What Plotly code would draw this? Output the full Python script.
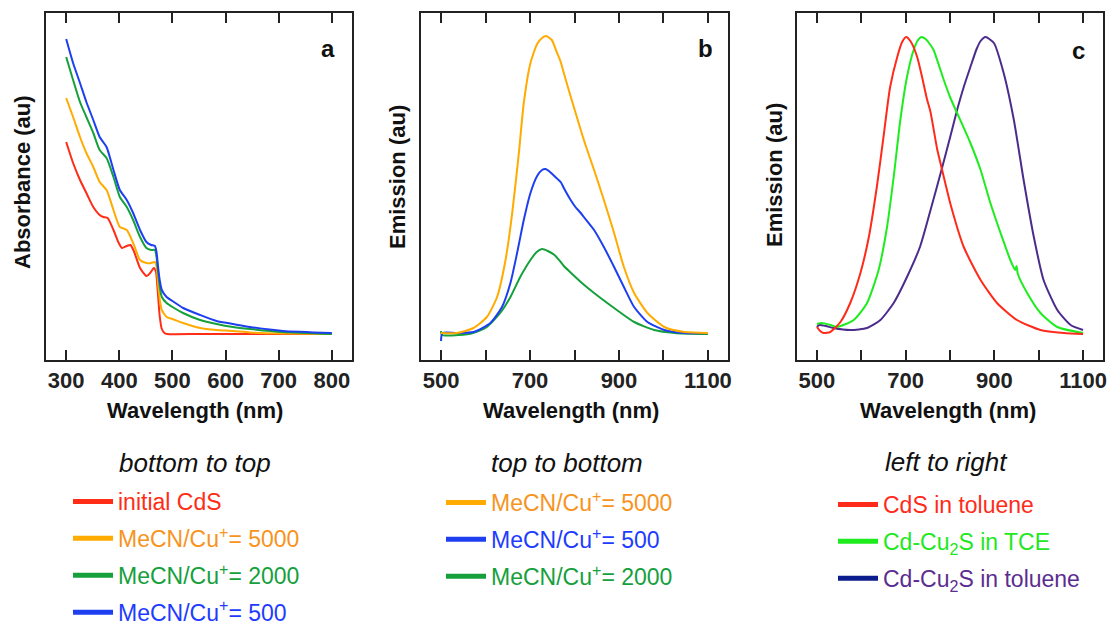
import plotly.graph_objects as go

F = "Liberation Sans, Arial, sans-serif"

# ---------------- Panel a: absorbance ----------------
a_red_x = [300, 313, 326, 338, 351, 363, 370, 378, 389, 398, 405, 414, 421, 428, 439, 451, 458, 465, 469, 472, 476, 480, 485, 490, 550, 650, 800]
a_red_y = [192, 171, 154, 141, 127, 119, 117, 116, 104, 92, 86, 88, 89, 82, 66, 58, 61, 66, 62, 45, 18, 5, 1, 0, 0, 0, 0]

a_x = [300, 313, 326, 338, 351, 363, 376, 389, 401, 414, 426, 439, 451, 460, 467, 470, 473, 476, 480, 489, 500, 520, 552, 583, 614, 646, 708, 800]
a_orange_y = [236, 217, 197, 181, 167, 152, 144, 124, 107, 104, 91, 74, 71, 71, 72, 68, 50, 35, 24, 17, 15, 11, 6, 4, 3, 1.5, 0.5, 0]
a_green_y = [277, 254, 232, 217, 201, 184, 176, 157, 137, 127, 114, 97, 86, 84, 84, 77, 62, 48, 37, 31, 27, 21, 14, 10, 7, 5, 2, 0]
a_blue_y = [295, 271, 251, 232, 214, 197, 187, 164, 144, 134, 121, 104, 92, 89, 88, 82, 67, 54, 44, 37, 33, 26, 19, 13, 10, 7, 3, 1]

# ---------------- Panel b: emission ----------------
b_orange_x = [500, 535, 573, 603, 626, 645, 660, 675, 686, 701, 716, 727, 736, 749, 760, 769, 776, 791, 806, 821, 844, 866, 889, 911, 934, 964, 1002, 1047, 1100]
b_orange_y = [1, 1, 6, 17, 37, 74, 121, 181, 231, 271, 290, 296, 298, 294, 282, 272, 261, 238, 216, 194, 164, 134, 101, 67, 41, 21, 7, 2, 1]
b_blue_x = [500, 503, 535, 573, 611, 637, 656, 671, 686, 701, 716, 727, 735, 745, 757, 769, 776, 790, 802, 814, 821, 844, 866, 889, 911, 934, 964, 1002, 1047, 1100]
b_blue_y = [-7, 1, 1, 2, 11, 27, 51, 81, 114, 141, 158, 164, 165, 162, 157, 152, 146, 135, 127, 121, 117, 104, 87, 67, 47, 27, 12, 4, 1, 1]
b_green_x = [500, 502, 540, 572, 603, 633, 656, 678, 701, 715, 727, 740, 755, 769, 776, 790, 802, 814, 844, 889, 934, 979, 1025, 1100]
b_green_y = [3, -1, -1, 1, 7, 21, 37, 57, 74, 82, 85, 83, 79, 72, 68, 62, 57, 52, 41, 26, 12, 4, 1, 0]

# ---------------- Panel c: emission ----------------
c_red_x = [500, 507, 515, 530, 553, 575, 598, 617, 635, 650, 665, 681, 692, 701, 712, 726, 737, 748, 756, 771, 779, 801, 831, 869, 906, 951, 1004, 1057, 1100]
c_red_y = [7, 3, 1, 2, 12, 31, 61, 97, 147, 197, 247, 277, 292, 297, 292, 277, 257, 235, 222, 185, 170, 130, 87, 54, 31, 14, 4, 1, 0]
c_green_x = [500, 510, 531, 545, 583, 613, 639, 658, 673, 688, 703, 718, 728, 735, 745, 756, 763, 786, 801, 816, 846, 869, 891, 914, 936, 947, 950, 953, 974, 1004, 1042, 1100]
c_green_y = [10, 11, 9, 7, 14, 31, 64, 107, 157, 214, 257, 284, 294, 297, 295, 289, 284, 254, 236, 221, 191, 164, 131, 101, 74, 64, 68, 60, 41, 21, 7, 1]
c_purple_x = [500, 505, 520, 537, 575, 613, 643, 673, 703, 733, 758, 782, 801, 816, 831, 846, 860, 869, 880, 899, 921, 944, 966, 989, 1011, 1042, 1072, 1100]
c_purple_y = [7, 9, 8, 6, 4, 6, 14, 31, 57, 88, 127, 166, 198, 224, 247, 267, 285, 293, 297, 291, 261, 214, 154, 97, 54, 24, 9, 4]

# tick labels
a_tickvals = [300, 400, 500, 600, 700, 800]
a_ticktext = ["300", "400", "500", "600", "700", "800"]
bc_tickvals = [500, 700, 900, 1100]
bc_ticktext = ["500", "700", "900", "1100"]

# legend headings
headings = ["bottom to top", "top to bottom", "left to right"]

# colours
RED = "#ff2d16"
ORANGE = "#ffab00"
GREEN = "#15a03c"
BLUE = "#1e3ff0"
C_RED = "#ff2b1a"
C_GREEN = "#1eec1e"
C_PURPLE = "#4b2c8c"

fig = go.Figure()

def line(x, y, color, xa, ya):
    fig.add_trace(go.Scatter(x=x, y=y, mode="lines", line=dict(color=color, width=2, shape="spline", smoothing=0.6),
                             xaxis=xa, yaxis=ya, showlegend=False, hoverinfo="skip"))

line(a_red_x, a_red_y, RED, "x", "y")
line(a_x, a_orange_y, ORANGE, "x", "y")
line(a_x, a_green_y, GREEN, "x", "y")
line(a_x, a_blue_y, BLUE, "x", "y")

line(b_green_x, b_green_y, GREEN, "x2", "y2")
line(b_blue_x, b_blue_y, BLUE, "x2", "y2")
line(b_orange_x, b_orange_y, ORANGE, "x2", "y2")

line(c_purple_x, c_purple_y, C_PURPLE, "x3", "y3")
line(c_green_x, c_green_y, C_GREEN, "x3", "y3")
line(c_red_x, c_red_y, C_RED, "x3", "y3")

# legend entries
def leg(name, color, text_color, legend, grp):
    fig.add_trace(go.Scatter(x=[None], y=[None], mode="lines", line=dict(color=color, width=5),
                             name='<span style="color:%s">%s</span>' % (text_color, name),
                             legend=legend, legendgroup=grp, showlegend=True, xaxis="x", yaxis="y"))

leg("initial CdS", RED, "#ff2d16", "legend", "a1")
leg("MeCN/Cu<sup>+</sup>= 5000", ORANGE, "#f7941d", "legend", "a2")
leg("MeCN/Cu<sup>+</sup>= 2000", GREEN, "#15a03c", "legend", "a3")
leg("MeCN/Cu<sup>+</sup>= 500", BLUE, "#1e3cff", "legend", "a4")

leg("MeCN/Cu<sup>+</sup>= 5000", ORANGE, "#f7941d", "legend2", "b1")
leg("MeCN/Cu<sup>+</sup>= 500", BLUE, "#1e3cff", "legend2", "b2")
leg("MeCN/Cu<sup>+</sup>= 2000", GREEN, "#15a03c", "legend2", "b3")

leg("CdS in toluene", C_RED, "#ff2b1a", "legend3", "c1")
leg("Cd-Cu<sub>2</sub>S in TCE", C_GREEN, "#22e822", "legend3", "c2")
leg("Cd-Cu<sub>2</sub>S in toluene", "#0b1c8c", "#5b2d90", "legend3", "c3")

W, H = 1111, 626
def px(v): return v / W
def py(v): return 1 - v / H

xcommon = dict(showline=True, linewidth=2, linecolor="#222", mirror="ticks", ticks="inside", ticklen=10,
               tickwidth=2, tickcolor="#222", showgrid=False, zeroline=False,
               tickfont=dict(family=F, size=22, color="#222", weight="bold"))
minor_bc = dict(ticks="inside", ticklen=10, tickwidth=2, tickcolor="#222", tick0=500, dtick=100, showgrid=False)
ycommon = dict(showline=True, linewidth=2, linecolor="#222", mirror=True, ticks="", showticklabels=False,
               showgrid=False, zeroline=False, range=[-26, 321], domain=[py(360), py(13)])

legcommon = dict(bgcolor="rgba(0,0,0,0)", borderwidth=0, font=dict(family=F, size=23), tracegroupgap=4,
                 itemwidth=40, xanchor="left", yanchor="top", xref="container", yref="container",
                 itemclick=False, itemdoubleclick=False)

fig.update_layout(
    width=W, height=H, margin=dict(l=0, r=0, t=0, b=0, autoexpand=False),
    paper_bgcolor="white", plot_bgcolor="white",
    xaxis=dict(xcommon, domain=[px(46), px(352)], range=[262, 838], tickvals=a_tickvals, ticktext=a_ticktext, anchor="y"),
    yaxis=dict(ycommon, anchor="x"),
    xaxis2=dict(xcommon, domain=[px(421), px(728)], range=[455, 1145], tickvals=bc_tickvals, ticktext=bc_ticktext,
                minor=minor_bc, anchor="y2"),
    yaxis2=dict(ycommon, anchor="x2"),
    xaxis3=dict(xcommon, domain=[px(797), px(1103)], range=[455, 1145], tickvals=bc_tickvals, ticktext=bc_ticktext,
                minor=minor_bc, anchor="y3"),
    yaxis3=dict(ycommon, anchor="x3"),
    legend=dict(legcommon, x=px(68), y=py(480)),
    legend2=dict(legcommon, x=px(441), y=py(481)),
    legend3=dict(legcommon, x=px(833), y=py(483)),
)

ann = []
for t, x, y in [("a", 328, 48), ("b", 705, 48), ("c", 1078, 50)]:
    ann.append(dict(text=t, x=px(x), y=py(y), xref="paper", yref="paper", showarrow=False,
                    xanchor="center", yanchor="middle", font=dict(family=F, size=24, color="#111", weight="bold")))
for t, x, y in [("Absorbance (au)", 22, 182), ("Emission (au)", 397, 177), ("Emission (au)", 774, 175)]:
    ann.append(dict(text=t, x=px(x), y=py(y), xref="paper", yref="paper", showarrow=False, textangle=-90,
                    xanchor="center", yanchor="middle", font=dict(family=F, size=22, color="#111", weight="bold")))
for x in [195, 571, 948]:
    ann.append(dict(text="Wavelength (nm)", x=px(x), y=py(410), xref="paper", yref="paper", showarrow=False,
                    xanchor="center", yanchor="middle", font=dict(family=F, size=22, color="#111", weight="bold")))
for t, x, y in zip(headings, [195, 567, 946], [463, 463, 462]):
    ann.append(dict(text="<i>%s</i>" % t, x=px(x), y=py(y), xref="paper", yref="paper", showarrow=False,
                    xanchor="center", yanchor="middle", font=dict(family=F, size=26, color="#111")))
fig.update_layout(annotations=ann)

fig.write_html("out.html")
